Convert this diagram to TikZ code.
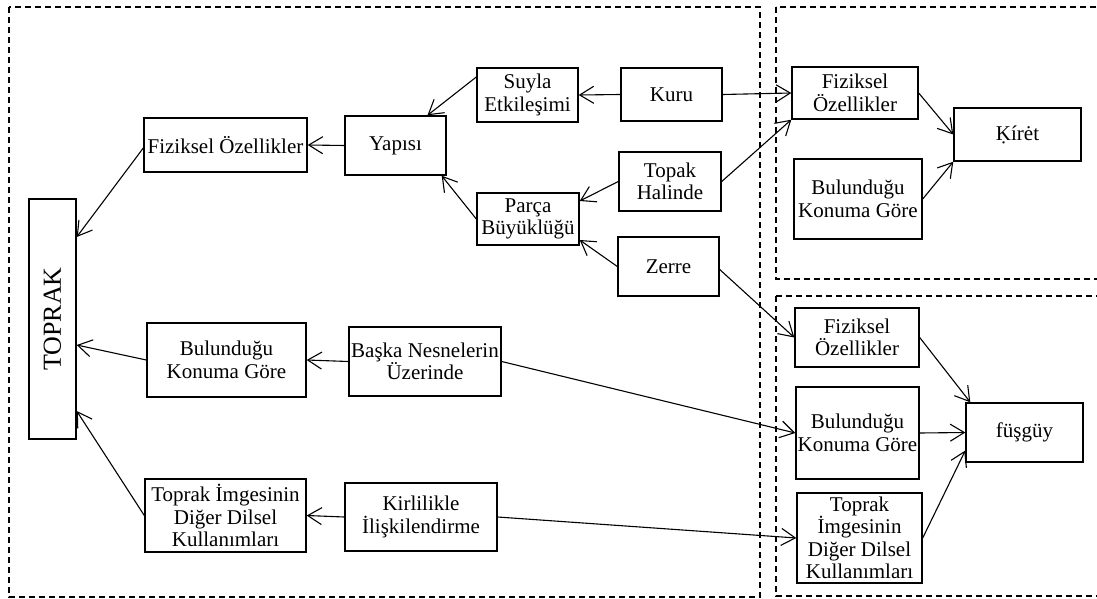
\documentclass[tikz,border=0pt]{standalone}
\usepackage{fontspec}
\setmainfont{Liberation Serif}
\usepackage{graphicx}
\usetikzlibrary{arrows.meta}

\begin{document}
\begin{tikzpicture}[x=1pt, y=-1pt,
  box/.style={draw, line width=1.4pt, align=center, inner sep=0pt,
    font=\fontsize{21}{22.5}\selectfont},
  link/.style={line width=1.1pt, -{Straight Barb[length=14pt,width=17pt]}},
  frame/.style={line width=1.3pt, dash pattern=on 6pt off 4pt}]
  \useasboundingbox (0,0) rectangle (1097,599);
  % frames
  \draw[frame] (9,7) rectangle (760,597);
  \draw[frame] (776,7) rectangle (1099,279);
  \draw[frame] (776,296) rectangle (1099,596);
  % left part
  \node[box, minimum width=47pt, minimum height=240pt] (toprak) at (52.5,319)
    {\rotatebox{90}{\fontsize{26}{28}\selectfont TOPRAK}};
  \node[box, minimum width=163pt, minimum height=54pt] (fizL) at (225.5,145) {Fiziksel Özellikler};
  \node[box, minimum width=101pt, minimum height=59pt] (yapi) at (395.5,145.5) {Yapısı};
  \node[box, minimum width=101pt, minimum height=54pt] (suyla) at (527.5,95) {Suyla\\Etkileşimi};
  \node[box, minimum width=101pt, minimum height=53pt] (kuru) at (671.5,94.5) {Kuru};
  \node[box, minimum width=102pt, minimum height=59pt] (topak) at (670,181.5) {Topak\\Halinde};
  \node[box, minimum width=102pt, minimum height=52pt] (parca) at (528,219) {Parça\\Büyüklüğü};
  \node[box, minimum width=101pt, minimum height=59pt] (zerre) at (668.5,266.5) {Zerre};
  \node[box, minimum width=159pt, minimum height=74pt] (bulL) at (226.5,360) {Bulunduğu\\Konuma Göre};
  \node[box, minimum width=152pt, minimum height=69pt] (baska) at (425,361.5) {Başka Nesnelerin\\Üzerinde};
  \node[box, minimum width=161pt, minimum height=73pt] (imgL) at (225.5,515.5) {Toprak İmgesinin\\Diğer Dilsel\\Kullanımları};
  \node[box, minimum width=152pt, minimum height=68pt] (kirli) at (421,517) {Kirlilikle\\İlişkilendirme};
  % top right
  \node[box, minimum width=126pt, minimum height=52pt] (fizTR) at (855,93) {Fiziksel\\Özellikler};
  \node[box, minimum width=128pt, minimum height=80pt] (bulTR) at (858,199) {Bulunduğu\\Konuma Göre};
  \node[box, minimum width=127pt, minimum height=53pt] (kiret) at (1017.5,134.5) {Ḳírėt};
  % bottom right
  \node[box, minimum width=124pt, minimum height=59pt] (fizBR) at (857,337.5) {Fiziksel\\Özellikler};
  \node[box, minimum width=123pt, minimum height=92pt] (bulBR) at (857.5,433) {Bulunduğu\\Konuma Göre};
  \node[box, minimum width=125pt, minimum height=90pt] (imgBR) at (859.5,538) {Toprak\\İmgesinin\\Diğer Dilsel\\Kullanımları};
  \node[box, minimum width=117pt, minimum height=59pt] (fusguy) at (1024.5,432.5) {füşgüy};
  % arrows into TOPRAK
  \draw[link] ([yshift=-3pt]fizL.west) -- ([yshift=82pt]toprak.east);
  \draw[link] (bulL.west) -- ([yshift=-26pt]toprak.east);
  \draw[link] (imgL.west) -- ([yshift=-92pt]toprak.east);
  % structure branch
  \draw[link] (yapi.west) -- (fizL.east);
  \draw[link] ([yshift=18pt]suyla.west) -- ([xshift=32pt]yapi.north);
  \draw[link] (parca.west) -- ([xshift=-5pt]yapi.south east);
  \draw[link] (kuru.west) -- (suyla.east);
  \draw[link] (topak.west) -- ([yshift=18pt]parca.east);
  \draw[link] (zerre.west) -- ([yshift=-21pt]parca.east);
  \draw[link] (baska.west) -- (bulL.east);
  \draw[link] (kirli.west) -- (imgL.east);
  % links to the right
  \draw[link] (kuru.east) -- (fizTR.west);
  \draw[link] (topak.east) -- (fizTR.south west);
  \draw[link] ([yshift=-3pt]zerre.east) -- (fizBR.west);
  \draw[link] (baska.east) -- (bulBR.west);
  \draw[link] (kirli.east) -- (imgBR.west);
  \draw[link] (fizTR.east) -- (kiret.west);
  \draw[link] (bulTR.east) -- (kiret.south west);
  \draw[link] (fizBR.east) -- ([xshift=5pt]fusguy.north west);
  \draw[link] (bulBR.east) -- (fusguy.west);
  \draw[link] (imgBR.east) -- ([yshift=-18pt]fusguy.west);
\end{tikzpicture}
\end{document}
